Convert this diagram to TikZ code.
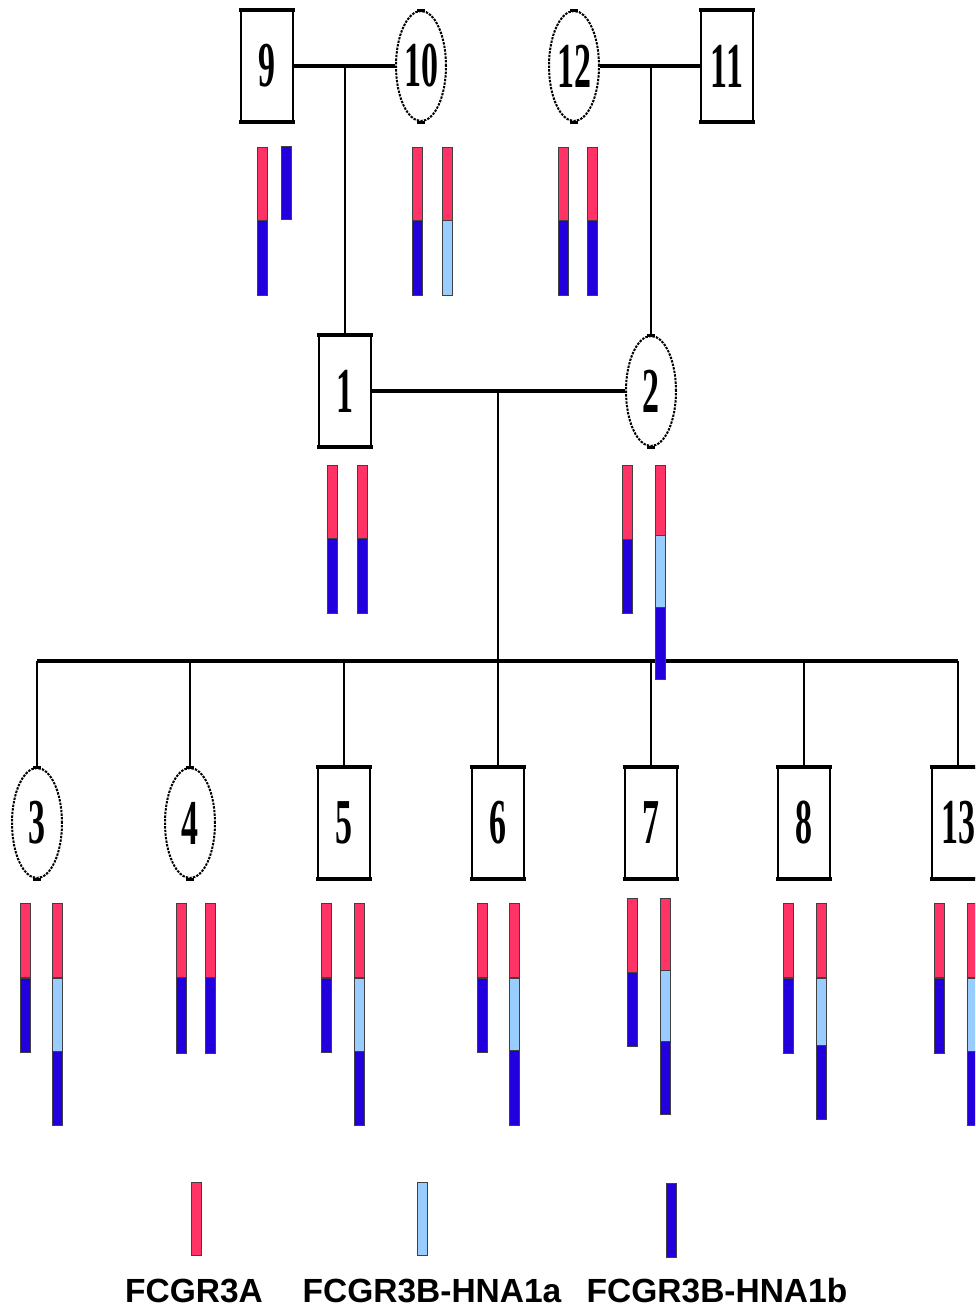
\documentclass[tikz,border=0pt]{standalone}
\usepackage{fontspec}
\usepackage{graphicx}
\usetikzlibrary{shapes.geometric}
\newfontfamily\legendfont{Liberation Sans}
\newfontfamily\numfont{Liberation Serif}
\definecolor{gA}{HTML}{FF3366}
\definecolor{gHa}{HTML}{99CCFF}
\definecolor{gHb}{HTML}{2200DD}
% condensed heavy digits for the pedigree numbers
\newcommand\pednum[1]{\raisebox{-2pt}{\scalebox{0.53}[1]{\numfont\bfseries\fontsize{64}{64}\selectfont #1}}}
% one coloured segment of an allele bar: x-left, y-top, y-bottom, colour
\newcommand\seg[4]{\filldraw[segline,fill=#4] (#1,#2) rectangle ({#1+10.5},#3);}
\begin{document}
\begin{tikzpicture}[x=1pt,y=-1pt,
  male/.style={rectangle, draw, line width=1.8pt, minimum width=52pt,
    minimum height=110pt, inner sep=0pt},
  female/.style={ellipse, draw, line width=2pt, dash pattern=on 2.4pt off 1.2pt,
    minimum width=50pt, minimum height=110pt, inner sep=0pt},
  couple/.style={line width=4pt},
  descent/.style={line width=2pt},
  segline/.style={draw=black!75, line width=0.7pt},
  legendtext/.style={font=\legendfont\bfseries\fontsize{33.5}{33.5}\selectfont, anchor=base, inner sep=0pt}]
\useasboundingbox (0,0) rectangle (975,1309);
\clip (0,0) rectangle (975,1309);

% grandparents
\node[male]   (n9)  at (267,66) {\pednum{9}};
\node[female] (n10) at (421,66) {\pednum{10}};
\node[female] (n12) at (574,66) {\pednum{12}};
\node[male]   (n11) at (727,66) {\pednum{11}};
% parents
\node[male]   (n1)  at (345,391) {\pednum{1}};
\node[female] (n2)  at (651,391) {\pednum{2}};
% children
\node[female] (n3)  at (37,823)  {\pednum{3}};
\node[female] (n4)  at (190,823) {\pednum{4}};
\node[male]   (n5)  at (344,823) {\pednum{5}};
\node[male]   (n6)  at (498,823) {\pednum{6}};
\node[male]   (n7)  at (651,823) {\pednum{7}};
\node[male]   (n8)  at (804,823) {\pednum{8}};
\node[male]   (n13) at (958,823) {\pednum{13}};

% heavier top and bottom edges of the squares
\foreach \n in {n9,n11,n1,n5,n6,n7,n8,n13}{
  \draw[line width=4pt] ([xshift=-0.9pt]\n.north west) -- ([xshift=0.9pt]\n.north east)
                        ([xshift=-0.9pt]\n.south west) -- ([xshift=0.9pt]\n.south east);
}
% small flat caps on the circles
\foreach \n in {n10,n12,n2,n3,n4}{
  \draw[line width=3pt] ([xshift=-4pt]\n.north) -- ([xshift=4pt]\n.north)
                        ([xshift=-4pt]\n.south) -- ([xshift=4pt]\n.south);
}

% couples and lines of descent
\coordinate (m910)  at (345,66);
\coordinate (m1211) at (651,66);
\coordinate (m12)   at (498,391);
\coordinate (sib)   at (498,661);
\draw[couple] (n9) -- (n10);
\draw[couple] (n12) -- (n11);
\draw[couple] (n1) -- (n2);
\draw[descent] (m910) -- (n1.north);
\draw[descent] (m1211) -- (n2.north);
\draw[descent] (m12) -- (sib);
\draw[couple] (n3.north |- sib) -- (n13.north |- sib);
\foreach \n in {n3,n4,n5,n6,n7,n8,n13}{
  \draw[descent] (\n.north |- sib) -- (\n.north);
}

% allele bars
\foreach \x/\a/\b/\c in {
  257/147/220/gA, 257/220/295/gHb, 281/146/219/gHb,
  412/147/220/gA, 412/220/295/gHb, 442/147/220/gA, 442/220/295/gHa,
  558/147/220/gA, 558/220/295/gHb, 587/147/220/gA, 587/220/295/gHb,
  327/465/538/gA, 327/538/613/gHb, 357/465/538/gA, 357/538/613/gHb,
  622/465/539/gA, 622/539/613/gHb,
  655/465/535/gA, 655/535/607/gHa, 655/607/679/gHb,
  20/903/977/gA, 20/978/1052/gHb,
  52/903/977/gA, 52/978/1051/gHa, 52/1051/1125/gHb,
  176/903/977/gA, 176/977/1053/gHb, 205/903/977/gA, 205/977/1053/gHb,
  321/903/977/gA, 321/978/1052/gHb,
  354/903/977/gA, 354/978/1051/gHa, 354/1051/1125/gHb,
  477/903/977/gA, 477/978/1052/gHb,
  509/903/977/gA, 509/978/1050/gHa, 509/1050/1125/gHb,
  627/898/972/gA, 627/972/1046/gHb,
  660/898/970/gA, 660/970/1041/gHa, 660/1041/1114/gHb,
  783/903/977/gA, 783/978/1053/gHb,
  816/903/977/gA, 816/978/1045/gHa, 816/1045/1119/gHb,
  934/903/977/gA, 934/978/1053/gHb,
  967/903/977/gA, 967/978/1051/gHa, 967/1051/1125/gHb}{
  \seg{\x}{\a}{\b}{\c}
}

% key
\seg{191}{1182}{1255}{gA}
\seg{417}{1182}{1255}{gHa}
\seg{666}{1183}{1257}{gHb}
\node[legendtext] (k1) at (194,1302) {FCGR3A};
\node[legendtext] (k2) at (432,1302) {FCGR3B-HNA1a};
\node[legendtext] (k3) at (717,1302) {FCGR3B-HNA1b};
\end{tikzpicture}
\end{document}
